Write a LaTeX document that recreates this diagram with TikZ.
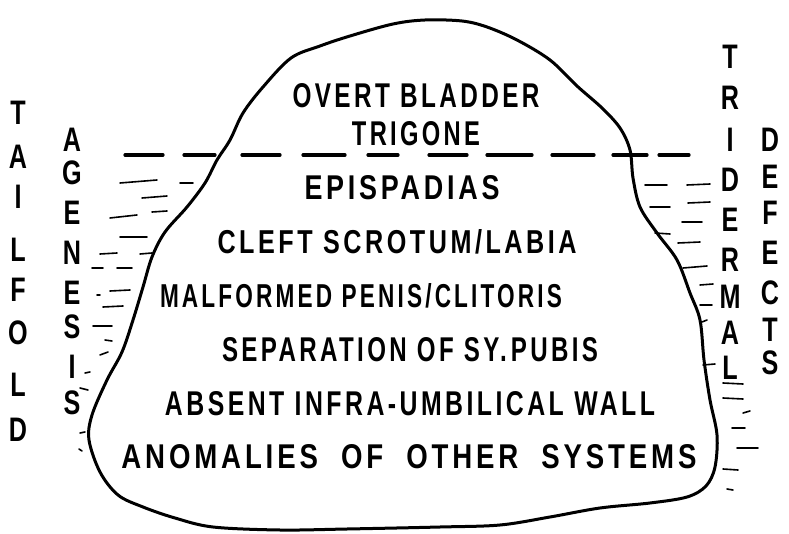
\documentclass[tikz,border=0pt]{standalone}
\usepackage{fontspec}
\setmainfont{Liberation Sans}
\usepackage{graphicx}
\begin{document}
\begin{tikzpicture}[x=1pt,y=-1pt,
  outline/.style={line width=3pt, line join=round},
  waterline/.style={line width=3.2pt, line cap=round},
  ripple/.style={line width=1.6pt, line cap=round},
  lab/.style={inner sep=0pt, anchor=center, font=\fontsize{34}{34}\selectfont\bfseries},
  vlet/.style={inner sep=0pt, anchor=center, font=\fontsize{34}{34}\selectfont\bfseries}]
\useasboundingbox (0,0) rectangle (789,534);
\newcommand{\fitw}[2]{\resizebox{#1pt}{24pt}{\addfontfeature{LetterSpace=14}#2}}
\newcommand{\vl}[1]{\scalebox{0.74}[1]{#1}}

% iceberg outline
\draw[outline] plot[smooth cycle, tension=0.55] coordinates {
 (291,58) (320,46) (350,36) (393,24) (425,20) (462,21) (487,27) (517,40)
 (550,60) (577,86) (602,108) (620,128) (630,150) (633,178) (640,207)
 (657,233) (677,260) (690,293) (700,320) (704,360) (710,400) (717,435)
 (715,467) (706,486) (687,497) (650,503) (600,508) (550,517) (500,525)
 (440,527) (347,529) (280,530) (213,527) (175,518) (143,507) (118,495)
 (100,472) (89,440) (92,415) (107,380) (122,352) (133,320) (143,287)
 (152,257) (165,232) (187,207) (205,183) (217,160) (230,140) (243,113)
 (263,87)};

% water level (dashed)
\foreach \a/\b in {125/163,184/215,242/280,303/345,368/398,429/467,487/532,552/594,613/647,659/689}
  \draw[waterline] (\a,155) -- (\b,155);

% ripples left
\foreach \xa/\ya/\xb/\yb in {120/183/157/180, 180/183/193/183, 142/198/167/196,
  110/218/137/215, 152/212/167/211, 120/237/147/237, 100/254/117/253,
  140/254/152/253, 92/268/103/268, 117/268/132/268, 97/295/100/295,
  110/291/130/290, 103/307/123/306, 93/326/112/326, 105/340/112/341,
  100/355/108/352, 85/373/90/372, 80/388/88/390, 80/433/85/432, 79/449/82/451}
  \draw[ripple] (\xa,\ya) -- (\xb,\yb);
% ripples right
\foreach \xa/\ya/\xb/\yb in {645/185/667/185, 687/185/710/184, 650/207/670/207,
  688/203/710/202, 655/233/670/234, 682/222/702/222, 678/243/700/242,
  683/268/707/266, 700/285/713/284, 700/305/712/305, 702/322/707/320,
  703/365/715/364, 723/383/743/384, 723/398/743/399, 743/413/750/411,
  732/428/745/428, 737/448/758/448, 723/469/738/470, 727/489/733/490}
  \draw[ripple] (\xa,\ya) -- (\xb,\yb);

% labels inside
\node[lab] (t1) at (416,96) {\fitw{247}{OVERT BLADDER}};
\node[lab] (t2) at (416,134) {\fitw{128}{TRIGONE}};
\node[lab] (t3) at (402,188) {\fitw{195}{EPISPADIAS}};
\node[lab] (t4) at (397,242) {\fitw{359}{CLEFT SCROTUM/LABIA}};
\node[lab] (t5) at (361,296) {\fitw{402}{MALFORMED PENIS/CLITORIS}};
\node[lab] (t6) at (410,350) {\fitw{376}{SEPARATION OF SY.\,PUBIS}};
\node[lab] (t7) at (410,404) {\fitw{490}{ABSENT INFRA-UMBILICAL WALL}};
\node[lab] (t8) at (409,457) {\fitw{575}{ANOMALIES \ OF \ OTHER \ SYSTEMS}};

% vertical words
\foreach \c/\y [count=\i] in {T/113,A/157,I/197,L/250,F/290,O/333,L/385,D/430}
  \node[vlet] (tf\i) at (18,\y) {\vl{\c}};
\foreach \c/\y [count=\i] in {A/140,G/173,E/213,N/253,E/293,S/327,I/367,S/403}
  \node[vlet] (ag\i) at (72,\y) {\vl{\c}};
\foreach \c/\y [count=\i] in {T/57,R/98,I/140,D/180,E/220,R/260,M/297,A/333,L/368}
  \node[vlet] (td\i) at (730,\y) {\vl{\c}};
\foreach \c/\y [count=\i] in {D/140,E/177,F/213,E/253,C/293,T/330,S/363}
  \node[vlet] (df\i) at (770,\y) {\vl{\c}};
\end{tikzpicture}
\end{document}
